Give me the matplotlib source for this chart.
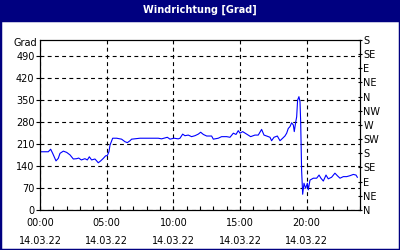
import matplotlib
matplotlib.use("Agg")
import matplotlib.pyplot as plt
from matplotlib.patches import Rectangle

# --- data (hours since 00:00 on 14.03.22, direction in degrees) ---
hours = [0.0, 0.62, 0.8, 0.95, 1.2, 1.37, 1.5, 1.75, 2.0, 2.25, 2.5, 2.75, 2.9,
         3.1, 3.37, 3.55, 3.7, 3.87, 4.12, 4.25, 4.37, 4.55, 4.75, 4.92, 5.05,
         5.17, 5.25, 5.45, 5.75, 6.12, 6.37, 6.55, 6.75, 6.87, 7.5, 8.87, 9.12,
         9.55, 9.75, 10.05, 10.37, 10.5, 10.7, 10.87, 11.12, 11.37, 11.62, 11.87,
         12.05, 12.25, 12.5, 12.87, 13.0, 13.37, 13.62, 14.0, 14.25, 14.5, 14.7,
         14.87, 15.0, 15.2, 15.5, 15.8, 16.12, 16.37, 16.62, 16.8, 17.0, 17.25,
         17.37, 17.55, 17.8, 18.0, 18.2, 18.37, 18.5, 18.62, 18.75, 18.87, 19.0,
         19.07, 19.17, 19.25, 19.32, 19.42, 19.5, 19.55, 19.62, 19.7, 19.8, 19.92,
         20.05, 20.12, 20.25, 20.5, 20.75, 20.93, 21.07, 21.25, 21.45, 21.62,
         21.87, 22.12, 22.3, 22.5, 22.75, 23.0, 23.25, 23.5, 23.7, 23.8]
grad = [185, 185, 193, 180, 156, 164, 180, 187, 183, 175, 162, 163, 165,
        159, 163, 159, 169, 159, 162, 156, 150, 156, 164, 172, 173,
        185, 206, 228, 228, 225, 217, 214, 220, 225, 228, 228, 226,
        231, 225, 228, 226, 228, 241, 236, 238, 233, 236, 241,
        247, 240, 235, 235, 225, 228, 233, 233, 231, 244, 240,
        252, 244, 249, 241, 233, 238, 238, 256, 238, 235, 231,
        220, 231, 235, 220, 228, 235, 244, 259, 265, 277, 270,
        249, 277, 296, 349, 360, 344, 281, 127, 50, 85, 69,
        85, 64, 95, 101, 101, 111, 101, 92, 111, 99,
        104, 117, 109, 101, 106, 106, 109, 113, 111, 104]

left_ticks = [0, 70, 140, 210, 280, 350, 420, 490]
right_ticks = [0, 45, 90, 135, 180, 225, 270, 315, 360, 405, 450, 495, 540]
right_labels = ["N", "NE", "E", "SE", "S", "SW", "W", "NW", "N", "NE", "E", "SE", "S"]
x_ticks = [0, 5, 10, 15, 20]
x_labels = ["00:00\n14.03.22", "05:00\n14.03.22", "10:00\n14.03.22",
            "15:00\n14.03.22", "20:00\n14.03.22"]

NAVY = "#000080"
FS = 7

fig = plt.figure(figsize=(4, 2.5), dpi=100)
fig.patch.set_facecolor("white")

# title bar and frame
fig.patches.append(Rectangle((0, 0.92), 1, 0.08, transform=fig.transFigure,
                             facecolor=NAVY, edgecolor="none", zorder=0))
fig.patches.append(Rectangle((0, 0), 1, 0.92, transform=fig.transFigure,
                             facecolor="none", edgecolor=NAVY, linewidth=2.5, zorder=0))
fig.text(0.5, 0.96, "Windrichtung [Grad]", color="white", fontsize=FS,
         fontweight="bold", ha="center", va="center")

ax = fig.add_axes([0.1, 0.16, 0.8, 0.68])
ax.plot(hours, grad, color="#0000ff", linewidth=0.8)
ax.set_xlim(0, 24)
ax.set_ylim(0, 540)

ax.set_yticks(left_ticks)
ax.tick_params(axis="y", labelsize=FS, length=3, width=0.8, pad=1)
ax.set_xticks(x_ticks)
ax.set_xticklabels(x_labels, fontsize=FS, linespacing=2.0)
ax.set_xticks(range(25), minor=True)
ax.tick_params(axis="x", which="both", direction="in", length=3, width=0.8, pad=6)
ax.grid(True, which="major", color="black", linestyle=(0, (3.5, 3)), linewidth=0.8)

for s in ax.spines.values():
    s.set_linewidth(0.8)

ax.text(-0.01, 532, "Grad", fontsize=FS, ha="right", va="center",
        transform=ax.get_yaxis_transform())

ax2 = ax.twinx()
ax2.set_ylim(0, 540)
ax2.set_yticks(right_ticks)
ax2.set_yticklabels(right_labels)
ax2.tick_params(axis="y", labelsize=FS, length=3, width=0.8, pad=1, direction="inout")

fig.savefig("out.png", dpi=100)
